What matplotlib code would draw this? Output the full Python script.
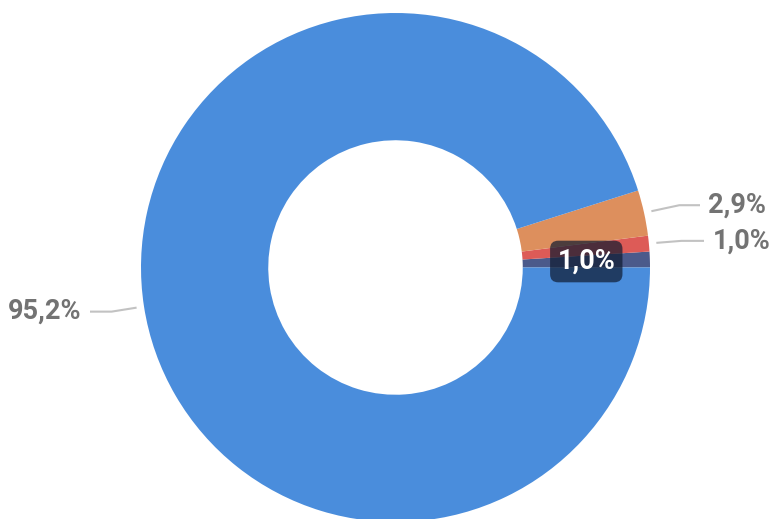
import numpy as np
import matplotlib
matplotlib.use("Agg")
import matplotlib.pyplot as plt

# slices, counterclockwise from 3 o'clock
labels = ["1,0%", "1,0%", "2,9%", "95,2%"]
values = [1.0, 1.0, 2.9, 95.2]
colors = ["#4b5a8b", "#dd5b57", "#dd8f5d", "#4a8ddc"]

W, H = 771, 519
fig = plt.figure(figsize=(W / 100, H / 100), dpi=100)
ax = fig.add_axes([0, 0, 1, 1])
ax.axis("off")

cx, cy = 395.5, 251.5
R = 254.5
ring = 0.5

wedges, _ = ax.pie(values, colors=colors, startangle=0, counterclock=True,
                   radius=R, center=(cx, cy),
                   wedgeprops=dict(width=R * ring, linewidth=0))
ax.set_xlim(0, W)
ax.set_ylim(0, H)
ax.set_aspect("equal")

font = "Roboto"
gray = "#737373"
line_col = "#c2c2c2"
fs = 19.5

# outside labels: (slice index, kink dx, kink dy, end x, text x, align)
outside = [(3, -25, -4, 90, 81, "right"),
           (2, 28, 6, 700, 708, "left"),
           (1, 25, 2, 704, 713, "left")]
for i, kdx, kdy, ex, tx, ha in outside:
    w = wedges[i]
    a = np.deg2rad((w.theta1 + w.theta2) / 2)
    sx = cx + 262 * np.cos(a)
    sy = cy + 262 * np.sin(a)
    ky = sy + kdy
    ax.plot([sx, sx + kdx, ex], [sy, ky, ky],
            color=line_col, lw=1.5, solid_capstyle="butt")
    ax.text(tx, ky, labels[i], ha=ha, va="center", fontsize=fs,
            fontweight="bold", family=font, color=gray)

# inside label on the smallest slice
w = wedges[0]
a = np.deg2rad((w.theta1 + w.theta2) / 2)
rm = R * (1 - ring / 2)
ax.text(cx + rm * np.cos(a), cy + rm * np.sin(a), labels[0],
        ha="center", va="center", fontsize=fs, fontweight="bold",
        family=font, color="white",
        bbox=dict(boxstyle="round,pad=0.27,rounding_size=0.3",
                  fc="#0f1a30", ec="none", alpha=0.7))

fig.savefig("out.png", dpi=100)
